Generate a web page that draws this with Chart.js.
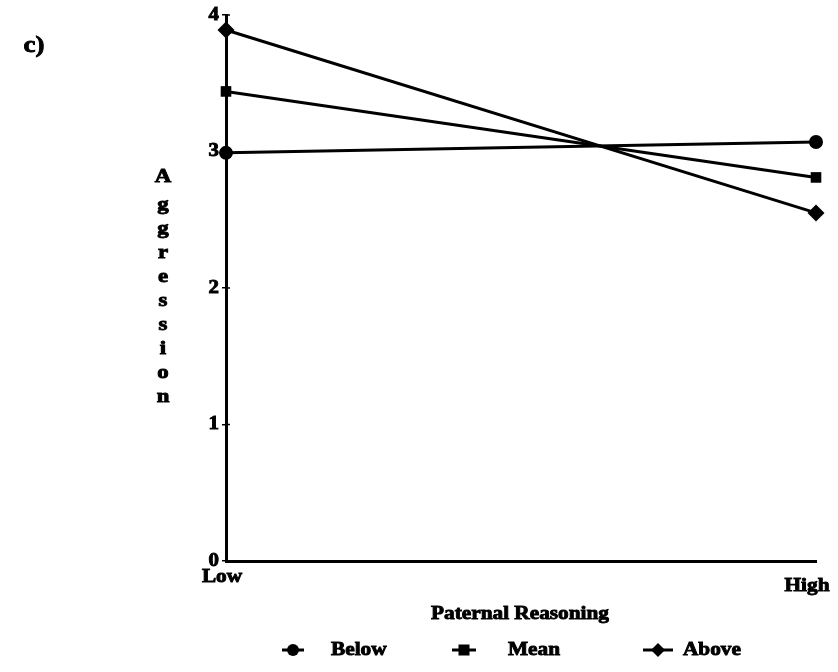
<!DOCTYPE html>
<html>
<head>
<meta charset="utf-8">
<script src="https://cdn.jsdelivr.net/npm/chart.js@4.4.0/dist/chart.umd.min.js"></script>
<style>
  html, body { margin: 0; padding: 0; background: #fff; }
  #wrap { width: 838px; height: 672px; }
</style>
</head>
<body>
<div id="wrap"><canvas id="myChart" width="838" height="672"></canvas></div>
<script>
// data
var categories = ['Low', 'High'];
var below = [2.99, 3.07];
var mean = [3.44, 2.81];
var above = [3.89, 2.55];
var yTicks = [0, 1, 2, 3, 4];
var seriesNames = ['Below', 'Mean', 'Above'];
var yTitle = 'Aggression';
var xTitle = 'Paternal Reasoning';

var FONT = '"Liberation Serif", "DejaVu Serif", serif';

// text helper, the scan is a bit wider and heavier than plain Times
function txt(ctx, s, x, y, size, align, sx) {
    sx = sx || 1.12;
    ctx.save();
    ctx.font = 'bold ' + size + 'px ' + FONT;
    ctx.fillStyle = '#000';
    ctx.strokeStyle = '#000';
    ctx.lineWidth = 0.9;
    ctx.textBaseline = 'middle';
    ctx.textAlign = align || 'center';
    ctx.translate(x, y);
    ctx.scale(sx, 1);
    ctx.fillText(s, 0, 0);
    ctx.strokeText(s, 0, 0);
    ctx.restore();
}

function marker(ctx, style, x, y, r) {
    ctx.beginPath();
    if (style === 'circle') {
        ctx.arc(x, y, r, 0, Math.PI * 2);
    } else if (style === 'rect') {
        ctx.rect(x - r, y - r, r * 2, r * 2);
    } else {
        ctx.moveTo(x, y - r);
        ctx.lineTo(x + r, y);
        ctx.lineTo(x, y + r);
        ctx.lineTo(x - r, y);
        ctx.closePath();
    }
    ctx.fill();
}

var styles = ['circle', 'rect', 'rectRot'];

var textPlugin = {
    id: 'textPlugin',
    afterDraw: function (chart) {
        var ctx = chart.ctx;
        var xs = chart.scales.x, ys = chart.scales.y;

        // y tick labels
        yTicks.forEach(function (v) {
            txt(ctx, String(v), ys.right - 7, ys.getPixelForValue(v), 19, 'right', 1.1);
        });

        // x labels
        txt(ctx, categories[0], xs.getPixelForValue(0) - 4, 577, 19, 'center');
        txt(ctx, categories[1], xs.getPixelForValue(1) - 9, 586, 19, 'center');

        // axis titles
        txt(ctx, xTitle, 520, 614, 19, 'center');
        var ly = [177, 205, 229, 253, 277, 301, 325, 349, 373, 397];
        yTitle.split('').forEach(function (ch, i) {
            txt(ctx, ch, 163, ly[i], 19, 'center', 1.2);
        });

        // panel letter
        txt(ctx, 'c)', 34, 46, 24, 'center');

        // legend
        var items = [
            { x1: 282, x2: 304, tx: 331, r: 6 },
            { x1: 452, x2: 476, tx: 508, r: 5.5 },
            { x1: 643, x2: 673, tx: 683, r: 7 }
        ];
        ctx.save();
        ctx.fillStyle = '#000';
        ctx.strokeStyle = '#000';
        ctx.lineWidth = 3;
        items.forEach(function (it, i) {
            var y = 650;
            ctx.beginPath();
            ctx.moveTo(it.x1, y);
            ctx.lineTo(it.x2, y);
            ctx.stroke();
            marker(ctx, styles[i], (it.x1 + it.x2) / 2, y, it.r);
            txt(ctx, seriesNames[i], it.tx, y, 19, 'left');
        });
        ctx.restore();

        // small cross ticks on the y axis, as in the scan
        ctx.save();
        ctx.strokeStyle = '#000';
        ctx.lineWidth = 1.5;
        yTicks.forEach(function (v) {
            var y = ys.getPixelForValue(v);
            ctx.beginPath();
            ctx.moveTo(ys.right, y);
            ctx.lineTo(ys.right + 4, y);
            ctx.stroke();
        });
        ctx.restore();
    }
};

function lineSet(label, data, style, r) {
    return {
        label: label,
        data: data,
        borderColor: '#000',
        backgroundColor: '#000',
        borderWidth: 3,
        pointStyle: style,
        pointRadius: r,
        pointBorderWidth: 0,
        tension: 0,
        clip: false
    };
}

var ctx = document.getElementById('myChart').getContext('2d');
var myChart = new Chart(ctx, {
    type: 'line',
    data: {
        labels: categories,
        datasets: [
            lineSet(seriesNames[0], below, styles[0], 7),
            lineSet(seriesNames[1], mean, styles[1], 7.5),
            lineSet(seriesNames[2], above, styles[2], 8.5)
        ]
    },
    options: {
        responsive: false,
        animation: false,
        layout: { padding: { top: 15, right: 22, left: 0, bottom: 0 } },
        plugins: { legend: { display: false }, tooltip: { enabled: false } },
        scales: {
            x: {
                type: 'category',
                offset: false,
                ticks: { display: false },
                grid: { display: true, drawOnChartArea: false, drawTicks: false },
                border: { color: '#000', width: 3 },
                afterFit: function (s) { s.height = 111; }
            },
            y: {
                min: 0,
                max: 4,
                ticks: { display: false, stepSize: 1 },
                grid: { drawOnChartArea: false, drawTicks: true, tickLength: 4, color: '#000', lineWidth: 1.5 },
                border: { color: '#000', width: 3 },
                afterFit: function (s) { s.width = 226; }
            }
        }
    },
    plugins: [textPlugin]
});
</script>
</body>
</html>
